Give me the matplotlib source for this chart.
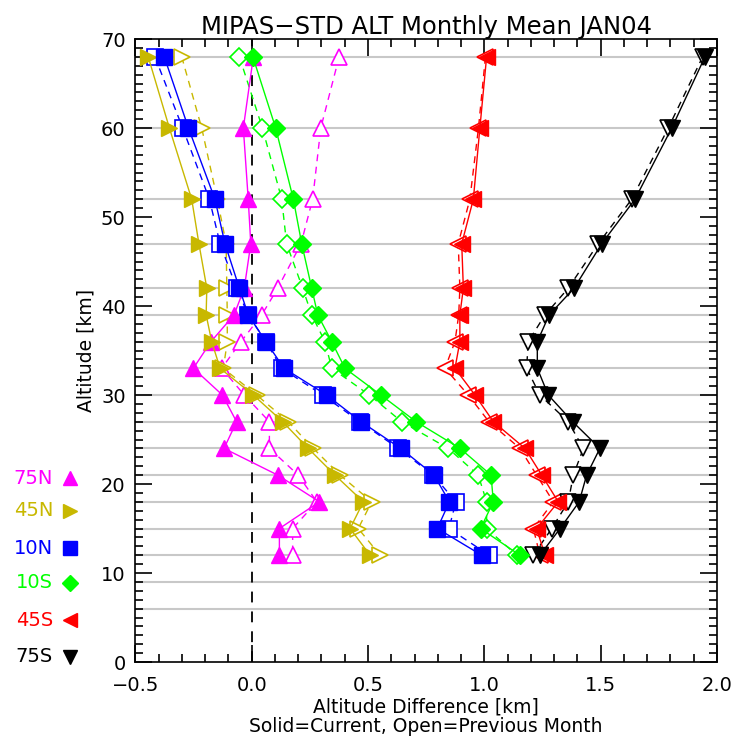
import matplotlib
matplotlib.use("Agg")
import matplotlib.pyplot as plt
from matplotlib.lines import Line2D

# MIPAS nominal tangent altitudes (km)
grid_alt = [6, 9, 12, 15, 18, 21, 24, 27, 30, 33, 36, 39, 42, 47, 52, 60, 68]
alt = [68, 60, 52, 47, 42, 39, 36, 33, 30, 27, 24, 21, 18, 15, 12]

# altitude differences (km), current month (solid) and previous month (open)
cur_75N = [0.007, -0.036, -0.015, -0.004, -0.032, -0.076, -0.175, -0.251, -0.126, -0.065, -0.119, 0.112, 0.291, 0.119, 0.119]
prv_75N = [0.376, 0.297, 0.262, 0.212, 0.112, 0.043, -0.046, -0.129, -0.032, 0.076, 0.076, 0.200, 0.280, 0.176, 0.176]
cur_45N = [-0.445, -0.354, -0.258, -0.227, -0.193, -0.196, -0.172, -0.136, 0.007, 0.133, 0.243, 0.358, 0.480, 0.423, 0.509]
prv_45N = [-0.301, -0.215, -0.148, -0.110, -0.107, -0.105, -0.105, -0.122, 0.021, 0.157, 0.265, 0.380, 0.516, 0.458, 0.552]
cur_10N = [-0.376, -0.272, -0.158, -0.115, -0.053, -0.015, 0.061, 0.139, 0.322, 0.470, 0.641, 0.784, 0.850, 0.798, 0.989]
prv_10N = [-0.416, -0.297, -0.182, -0.136, -0.065, -0.015, 0.061, 0.129, 0.305, 0.465, 0.630, 0.780, 0.878, 0.848, 1.021]
cur_10S = [0.005, 0.103, 0.179, 0.215, 0.258, 0.284, 0.344, 0.401, 0.555, 0.707, 0.896, 1.029, 1.039, 0.984, 1.153]
prv_10S = [-0.053, 0.046, 0.129, 0.150, 0.219, 0.258, 0.315, 0.344, 0.506, 0.645, 0.845, 0.974, 1.010, 1.010, 1.140]
cur_45S = [1.010, 0.981, 0.953, 0.903, 0.910, 0.895, 0.895, 0.874, 0.960, 1.039, 1.175, 1.247, 1.318, 1.225, 1.261]
prv_45S = [1.005, 0.975, 0.938, 0.888, 0.895, 0.890, 0.874, 0.831, 0.931, 1.020, 1.153, 1.225, 1.297, 1.211, 1.239]
cur_75S = [1.949, 1.806, 1.648, 1.505, 1.386, 1.279, 1.228, 1.228, 1.275, 1.380, 1.497, 1.440, 1.408, 1.326, 1.239]
prv_75S = [1.939, 1.791, 1.634, 1.490, 1.361, 1.261, 1.189, 1.182, 1.239, 1.361, 1.426, 1.383, 1.361, 1.290, 1.211]

labels = ["75N", "45N", "10N", "10S", "45S", "75S"]
colors = ["#FF00FF", "#C8B800", "#0000FF", "#00FF00", "#FF0000", "#000000"]
markers = ["^", ">", "s", "D", "<", "v"]
msizes = [11, 11, 11, 9, 11, 11]
current = [cur_75N, cur_45N, cur_10N, cur_10S, cur_45S, cur_75S]
previous = [prv_75N, prv_45N, prv_10N, prv_10S, prv_45S, prv_75S]

plt.rcParams['font.family'] = ['DejaVu Sans']
fig = plt.figure(figsize=(7.36, 7.43), dpi=100)
ax = fig.add_axes([0.184, 0.109, 0.79, 0.8385])

# gray horizontal lines at the tangent altitudes
for a in grid_alt:
    ax.axhline(a, color='#C8C8C8', lw=1.5, zorder=0)

ax.axvline(0, color='k', ls=(0, (6, 5)), lw=1.3, zorder=1)

for i in range(len(labels)):
    ax.plot(previous[i], alt, color=colors[i], ls=(0, (5, 4)), lw=1,
            marker=markers[i], ms=msizes[i], mfc='white', mec=colors[i], mew=1.2, zorder=2)
    ax.plot(current[i], alt, color=colors[i], ls='-', lw=1,
            marker=markers[i], ms=msizes[i], mfc=colors[i], mec=colors[i], zorder=3)

ax.set_xlim(-0.5, 2.0)
ax.set_ylim(0, 70)
ax.set_xticks([-0.5, 0.0, 0.5, 1.0, 1.5, 2.0])
ax.set_xticklabels(["\u22120.5", "0.0", "0.5", "1.0", "1.5", "2.0"])
ax.set_xticks([x / 10 for x in range(-5, 21)], minor=True)
ax.set_yticks(range(0, 71, 10))
ax.set_yticks(range(0, 71), minor=True)
ax.tick_params(which='both', direction='in', top=True, right=True, labelsize=14, width=1.2)
ax.tick_params(which='major', length=12)
ax.tick_params(axis='x', which='major', pad=10)
ax.tick_params(axis='y', which='major', pad=7)
ax.tick_params(which='minor', length=6)
for s in ax.spines.values():
    s.set_linewidth(1.2)

ax.set_title("MIPAS\u2212STD ALT Monthly Mean JAN04", fontsize=17.5, pad=3)
ax.set_xlabel("Altitude Difference [km]\nSolid=Current, Open=Previous Month", fontsize=13.5,
              labelpad=2, linespacing=1.05)
ax.set_ylabel("Altitude [km]", fontsize=13.5, labelpad=4)

# legend on the left, outside the axes
leg_y = [478, 511, 548, 583, 620, 657]
for i in range(len(labels)):
    yf = 1 - leg_y[i] / 743
    fig.text(53 / 736, yf, labels[i], color=colors[i], fontsize=14, ha='right', va='center')
    fig.add_artist(Line2D([70 / 736], [yf], marker=markers[i], ms=msizes[i] - 1, color=colors[i],
                          transform=fig.transFigure))

fig.savefig("out.png", dpi=100)
